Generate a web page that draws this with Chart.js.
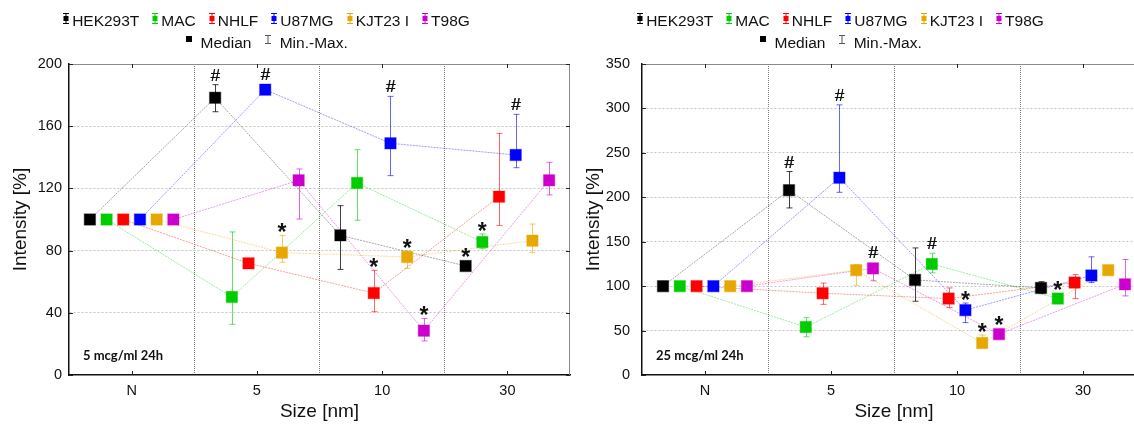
<!DOCTYPE html>
<html><head><meta charset="utf-8">
<script src="https://cdn.jsdelivr.net/npm/chart.js@4"></script>
<style>
html,body{margin:0;padding:0;background:#fff;width:1134px;height:425px;overflow:hidden;position:relative;font-family:"Liberation Sans",Arial,sans-serif;}
.box{position:absolute;top:0;height:425px;}
.legend{position:absolute;top:10px;text-align:center;font-size:15.5px;color:#111;line-height:22px;}
.row{white-space:nowrap;}
.item{display:inline-block;margin:0 6px;}
.item svg{vertical-align:middle;margin-right:2px;position:relative;top:-3px;}
</style></head>
<body>
<div class="box" style="left:0;width:580px"><canvas id="c1" width="580" height="425" style="width:580px;height:425px"></canvas></div>
<div class="box" style="left:575px;width:600px"><canvas id="c2" width="600" height="425" style="width:600px;height:425px"></canvas></div>
<div class="legend" id="lg1" style="left:0;width:532px"></div>
<div class="legend" id="lg2" style="left:575px;width:530px"></div>
<script>
const categories = ['N', '5', '10', '30'];
const seriesNames = ['HEK293T', 'MAC', 'NHLF', 'U87MG', 'KJT23 I', 'T98G'];
const seriesColors = ['#000000', '#00cc00', '#ff0000', '#0000ff', '#e6a800', '#cc00cc'];

// Panel 1: 5 mcg/ml 24h  (rows = series, columns = categories)
const median5 = [
  [100, 178.3, 89.8, 70.1],
  [100, 50.2, 123.5, 85.5],
  [100, 71.8, 52.7, 114.7],
  [100, 183.5, 149.0, 141.5],
  [100, 78.7, 75.9, 86.4],
  [100, 125.2, 28.5, 125.2]
];
const min5 = [
  [100, 169.3, 67.9, 69.0],
  [100, 32.6, 99.5, 81.2],
  [100, 71.0, 40.7, 96.2],
  [100, 183.0, 128.2, 133.3],
  [100, 72.5, 68.6, 78.7],
  [100, 100.3, 21.9, 115.8]
];
const max5 = [
  [100, 186.7, 108.9, 71.0],
  [100, 92.0, 144.9, 90.7],
  [100, 72.5, 67.3, 155.4],
  [100, 184.0, 179.2, 167.6],
  [100, 89.8, 79.9, 97.1],
  [100, 132.5, 36.4, 136.8]
];
const marks5 = [
  ['', '#', '', '*'],
  ['', '', '', '*'],
  ['', '', '*', ''],
  ['', '#', '#', '#'],
  ['', '*', '*', ''],
  ['', '', '*', '']
];

// Panel 2: 25 mcg/ml 24h
const median25 = [
  [100, 208, 107, 98],
  [100, 54, 125, 86],
  [100, 92, 86, 104],
  [100, 222, 73, 112],
  [100, 118, 36, 118],
  [100, 120, 46, 102]
];
const min25 = [
  [100, 188, 83, 92],
  [100, 43, 115, 84],
  [100, 79.5, 76, 86],
  [100, 205.6, 59, 104],
  [100, 101, 34, 118],
  [100, 106, 45, 89]
];
const max25 = [
  [100, 229, 143, 105],
  [100, 64.5, 137, 88],
  [100, 103.5, 98, 113],
  [100, 304, 81, 133],
  [100, 124, 45, 118],
  [100, 125, 47, 130]
];
const marks25 = [
  ['', '#', '', ''],
  ['', '', '#', '*'],
  ['', '', '', ''],
  ['', '#', '*', ''],
  ['', '', '*', ''],
  ['', '#', '*', '']
];

const yTicks5 = [0, 40, 80, 120, 160, 200];
const yTicks25 = [0, 50, 100, 150, 200, 250, 300, 350];

const FONT = '"Liberation Sans", Arial, sans-serif';
const STEP = 0.1333;

function rgba(hex, a) {
  const n = parseInt(hex.slice(1), 16);
  return `rgba(${(n >> 16) & 255},${(n >> 8) & 255},${n & 255},${a})`;
}
function offsetOf(s) { return (s - 2.5) * STEP; }

const panelPlugin = {
  id: 'panel',
  beforeDatasetsDraw(chart) {
    const p = chart.options.plugins.panel;
    const {ctx} = chart;
    const xs = chart.scales.x, ys = chart.scales.y;
    ctx.save();
    ctx.lineWidth = 1;
    p.med.forEach((row, s) => {
      row.forEach((v, i) => {
        const lo = p.min[s][i], hi = p.max[s][i];
        if (hi - lo < 0.01) return;
        const x = Math.round(xs.getPixelForValue(i + offsetOf(s))) + 0.5;
        const y1 = ys.getPixelForValue(lo), y2 = ys.getPixelForValue(hi);
        ctx.strokeStyle = rgba(seriesColors[s], s === 0 ? 0.75 : 0.6);
        ctx.beginPath();
        ctx.moveTo(x, y1); ctx.lineTo(x, y2);
        ctx.moveTo(x - 3, y1); ctx.lineTo(x + 3, y1);
        ctx.moveTo(x - 3, y2); ctx.lineTo(x + 3, y2);
        ctx.stroke();
      });
    });
    ctx.restore();
  },
  afterDraw(chart) {
    const p = chart.options.plugins.panel;
    const {ctx, chartArea: a} = chart;
    const xs = chart.scales.x, ys = chart.scales.y;
    ctx.save();
    ctx.strokeStyle = '#8a8a8a';
    ctx.lineWidth = 1;
    ctx.beginPath();
    ctx.moveTo(a.left, a.top + 0.5); ctx.lineTo(a.right, a.top + 0.5);
    ctx.moveTo(a.right - 0.5, a.top); ctx.lineTo(a.right - 0.5, a.bottom);
    ctx.stroke();
    ctx.strokeStyle = '#222';
    ctx.beginPath();
    p.yTicks.forEach(v => {
      const y = Math.round(ys.getPixelForValue(v)) + 0.5;
      ctx.moveTo(a.left, y); ctx.lineTo(a.left + 4, y);
      ctx.moveTo(a.right, y); ctx.lineTo(a.right - 4, y);
    });
    categories.forEach((c, i) => {
      const x = Math.round(xs.getPixelForValue(i)) + 0.5;
      ctx.moveTo(x, a.bottom); ctx.lineTo(x, a.bottom - 4);
      ctx.moveTo(x, a.top); ctx.lineTo(x, a.top + 4);
    });
    ctx.stroke();
    ctx.fillStyle = '#111';
    ctx.textAlign = 'center';
    ctx.textBaseline = 'alphabetic';
    p.marks.forEach((row, s) => {
      row.forEach((m, i) => {
        if (!m) return;
        const x = xs.getPixelForValue(i + offsetOf(s));
        const top = Math.min(ys.getPixelForValue(p.max[s][i]), ys.getPixelForValue(p.med[s][i]) - 6);
        if (m === '#') {
          ctx.font = '17px ' + FONT;
          ctx.fillText('#', x, top - 4);
          ctx.fillText('#', x + 0.4, top - 4);
        } else {
          ctx.font = 'bold 23px ' + FONT;
          ctx.fillText('*', x, top + 5);
        }
      });
    });
    ctx.font = 'bold 13px Lato, "Open Sans", sans-serif';
    ctx.textAlign = 'left';
    ctx.textBaseline = 'middle';
    ctx.fillStyle = '#111';
    ctx.fillText(p.label, a.left + 14, a.bottom - 19);
    ctx.restore();
  }
};

function makeChart(id, med, mn, mx, marks, yMax, yTicks, label, yWidth, tickPad, titlePad, padRight) {
  const datasets = [];
  med.forEach((row, s) => {
    const pts = row.map((v, i) => ({x: i + offsetOf(s), y: v}));
    datasets.push({
      label: seriesNames[s] + ' line', data: pts, showLine: true, order: 2,
      borderColor: rgba(seriesColors[s], s === 0 ? 0.35 : 0.4), borderWidth: 1, borderDash: [2, 1],
      pointRadius: 0, pointHoverRadius: 0
    });
  });
  med.forEach((row, s) => {
    const pts = row.map((v, i) => ({x: i + offsetOf(s), y: v}));
    datasets.push({
      label: seriesNames[s], data: pts, showLine: false, order: 1,
      pointStyle: 'rect', pointRadius: 8, pointHoverRadius: 8,
      backgroundColor: seriesColors[s], pointBackgroundColor: seriesColors[s],
      pointBorderColor: rgba(seriesColors[s], 0.35), pointBorderWidth: 1.2
    });
  });
  return new Chart(document.getElementById(id), {
    type: 'scatter',
    data: {datasets},
    plugins: [panelPlugin],
    options: {
      responsive: false, animation: false, events: [],
      layout: {padding: {left: 0, top: 64, right: padRight, bottom: 0}},
      plugins: {
        legend: {display: false}, tooltip: {enabled: false},
        panel: {med, min: mn, max: mx, marks, yTicks, label}
      },
      scales: {
        x: {
          type: 'linear', min: -0.5, max: 3.5,
          afterBuildTicks: (sc) => { sc.ticks = [-0.5, 0, 0.5, 1, 1.5, 2, 2.5, 3, 3.5].map(v => ({value: v})); },
          afterFit: (sc) => { sc.height = 50; },
          ticks: {
            autoSkip: false, maxRotation: 0, padding: 7, color: '#111',
            font: {size: 14.5, family: FONT},
            callback: (v) => (Number.isInteger(v) && v >= 0 && v < categories.length) ? categories[v] : ''
          },
          grid: {
            drawTicks: false, lineWidth: 1,
            color: (c) => (c.tick && !Number.isInteger(c.tick.value) && c.tick.value > -0.5 && c.tick.value < 3.5) ? '#7a7a7a' : 'rgba(0,0,0,0)'
          },
          border: {display: true, color: '#111', width: 1.5, dash: [1, 1]},
          title: {display: true, text: 'Size [nm]', color: '#111', font: {size: 19, family: FONT}, padding: {top: 0, bottom: 2}}
        },
        y: {
          min: 0, max: yMax,
          afterBuildTicks: (sc) => { sc.ticks = yTicks.map(v => ({value: v})); },
          afterFit: (sc) => { sc.width = yWidth; },
          ticks: {padding: tickPad, color: '#111', font: {size: 14.5, family: FONT}},
          grid: {
            drawTicks: false, lineWidth: 1,
            color: (c) => (c.tick && c.tick.value > 0 && c.tick.value < yMax) ? '#c4c4c4' : 'rgba(0,0,0,0)'
          },
          border: {display: true, color: '#111', width: 1.5, dash: [2, 2]},
          title: {display: true, text: 'Intensity [%]', color: '#111', font: {size: 19, family: FONT}, padding: {top: titlePad, bottom: 0}}
        }
      }
    }
  });
}

makeChart('c1', median5, min5, max5, marks5, 200, yTicks5, '5 mcg/ml 24h', 69, 7, 9, 10);
makeChart('c2', median25, min25, max25, marks25, 350, yTicks25, '25 mcg/ml 24h', 67, 12, 7, 29);

function icon(color) {
  return `<svg width="8" height="13" viewBox="0 0 8 13"><g stroke="${color}" stroke-width="1" fill="none"><line x1="4" y1="1" x2="4" y2="12"/><line x1="1" y1="1.5" x2="7" y2="1.5"/><line x1="1" y1="11.5" x2="7" y2="11.5"/></g><rect x="1.5" y="4" width="5" height="5" fill="${color}"/></svg>`;
}
function buildLegend(id) {
  const el = document.getElementById(id);
  const r1 = seriesNames.map((n, s) => `<span class="item">${icon(seriesColors[s])}${n}</span>`).join('');
  const med = `<span class="item"><svg width="10" height="14" viewBox="0 0 10 14"><rect x="2" y="2" width="6" height="6" fill="#000"/></svg> Median</span>`;
  const mm = `<span class="item"><svg width="10" height="14" viewBox="0 0 10 14"><g stroke="#555" stroke-width="1"><line x1="5" y1="1" x2="5" y2="10"/><line x1="2" y1="1.5" x2="8" y2="1.5"/><line x1="2" y1="9.5" x2="8" y2="9.5"/></g></svg> Min.-Max.</span>`;
  el.innerHTML = `<div class="row">${r1}</div><div class="row">${med}${mm}</div>`;
}
buildLegend('lg1');
buildLegend('lg2');
</script>
</body></html>
